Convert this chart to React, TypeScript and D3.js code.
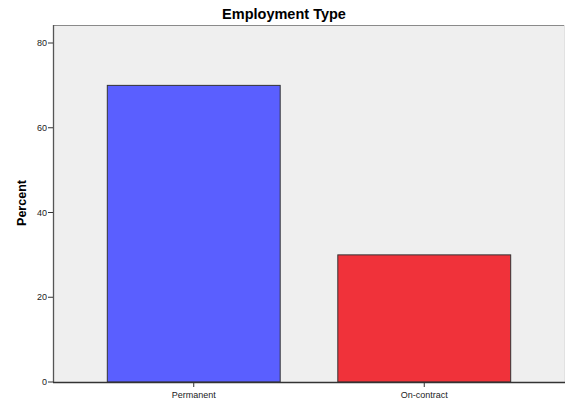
import React from "react";
import * as d3 from "d3";

const categories = ["Permanent", "On-contract"];
const values = [70.0, 30.0];
const barColors = ["#5A5FFF", "#F0323A"];
const yTicks = [0, 20, 40, 60, 80];
const title = "Employment Type";
const yLabel = "Percent";

const W = 565;
const H = 401;
const left = 53;
const right = 564;
const top = 25;
const bottom = 382;

export default function App() {
  const x = d3
    .scaleBand<string>()
    .domain(categories)
    .range([left, 565])
    .paddingInner(0.25)
    .paddingOuter(0.2356);
  const y = d3.scaleLinear().domain([0, 80]).range([bottom, 43]);
  const font = "Arial, 'Liberation Sans', sans-serif";
  return (
    <svg
      width={W}
      height={H}
      style={{ position: "absolute", left: 0, top: 0, fontFamily: font }}
    >
      <rect x={0} y={0} width={W} height={H} fill="#ffffff" />
      <rect x={left} y={top} width={right - left} height={bottom - top} fill="#EFEFEF" />
      <line x1={left} x2={W} y1={top + 0.5} y2={top + 0.5} stroke="#8a8a8a" strokeWidth={1.2} />
      <line x1={right + 0.5} x2={right + 0.5} y1={top} y2={bottom} stroke="#e2e2e2" strokeWidth={1} />
      <text x={284} y={19} textAnchor="middle" fontSize={14.5} fontWeight="bold" fill="#000">
        {title}
      </text>
      {categories.map((c, i) => (
        <rect
          key={c}
          x={x(c)!}
          y={y(values[i])}
          width={x.bandwidth()}
          height={bottom - y(values[i])}
          fill={barColors[i]}
          stroke="#333"
          strokeWidth={1}
        />
      ))}
      <line x1={left + 0.5} x2={left + 0.5} y1={top} y2={bottom} stroke="#555" strokeWidth={1.3} />
      <line x1={left} x2={W} y1={bottom + 0.5} y2={bottom + 0.5} stroke="#333" strokeWidth={1.3} />
      {yTicks.map((t) => (
        <g key={t}>
          <line x1={48} x2={left} y1={y(t)} y2={y(t)} stroke="#333" strokeWidth={1} />
          <text x={47} y={y(t) + 3.2} textAnchor="end" fontSize={9} fill="#222">
            {t}
          </text>
        </g>
      ))}
      {categories.map((c) => {
        const cx = x(c)! + x.bandwidth() / 2;
        return (
          <g key={c}>
            <line x1={cx} x2={cx} y1={bottom} y2={bottom + 5} stroke="#333" strokeWidth={1} />
            <text x={cx} y={398} textAnchor="middle" fontSize={9} fill="#222">
              {c}
            </text>
          </g>
        );
      })}
      <text
        transform={`translate(26,203) rotate(-90)`}
        textAnchor="middle"
        fontSize={12.5}
        fontWeight="bold"
        fill="#000"
      >
        {yLabel}
      </text>
    </svg>
  );
}
